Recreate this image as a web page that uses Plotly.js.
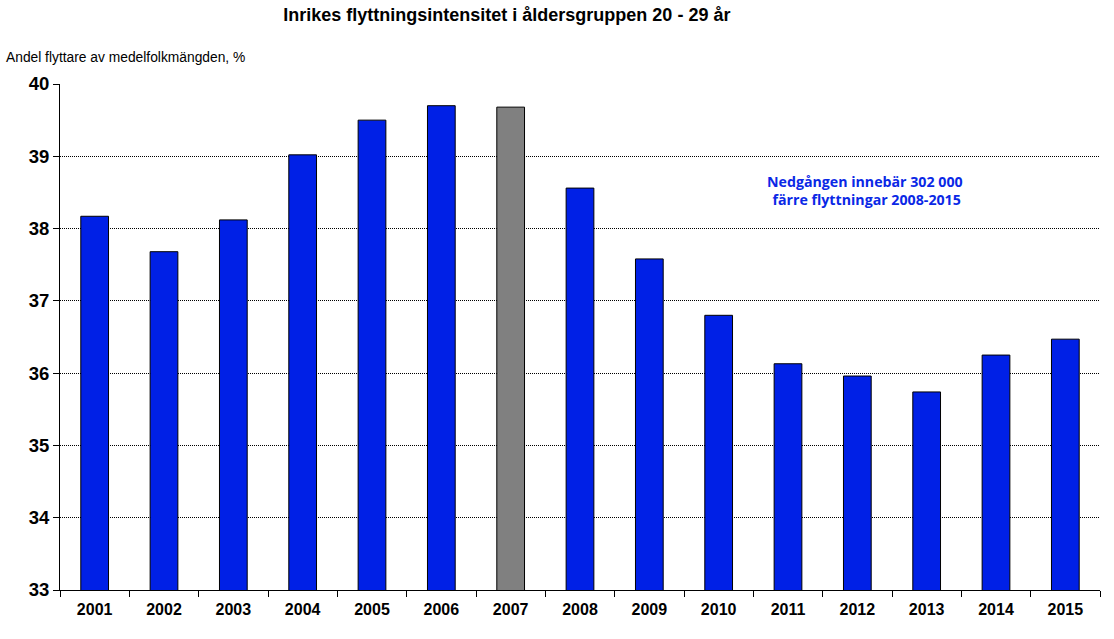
<!DOCTYPE html>
<html>
<head>
<meta charset="utf-8">
<script src="https://cdn.plot.ly/plotly-3.0.1.min.js"></script>
<style>html,body{margin:0;padding:0;background:#fff;}#chart{width:1114px;height:639px;}</style>
</head>
<body>
<div id="chart"></div>
<script>
const years = ["2001","2002","2003","2004","2005","2006","2007","2008","2009","2010","2011","2012","2013","2014","2015"];
const values = [38.17, 37.68, 38.12, 39.02, 39.50, 39.70, 39.68, 38.56, 37.58, 36.80, 36.13, 35.96, 35.74, 36.25, 36.47];
const barColors = years.map(y => y === "2007" ? "#808080" : "#0020e6");

const trace = {
  type: "bar",
  x: years,
  y: values,
  width: 0.4,
  marker: {color: barColors, line: {color: "#000", width: 1}},
  hoverinfo: "x+y"
};

const layout = {
  width: 1114, height: 639,
  margin: {l: 60, r: 14, t: 84, b: 49},
  paper_bgcolor: "#fff", plot_bgcolor: "#fff",
  showlegend: false,
  font: {family: "Liberation Sans, Arial, sans-serif", color: "#000"},
  title: {text: "<b>Inrikes flyttningsintensitet i åldersgruppen 20 - 29 år</b>", font: {size: 18, family: "Liberation Sans, Arial, sans-serif"}, x: 0.455, xanchor: "center", y: 0.977, yanchor: "middle"},
  xaxis: {
    type: "category",
    showline: true, linecolor: "#000", linewidth: 1,
    ticks: "outside", tickson: "boundaries", ticklen: 6, tickcolor: "#000",
    ticklabelstandoff: 5,
    tickfont: {size: 16, family: "Liberation Sans, Arial, sans-serif", weight: "bold"},
    showgrid: false
  },
  yaxis: {
    range: [33, 40], dtick: 1, tick0: 33,
    showline: true, linecolor: "#000", linewidth: 1,
    ticks: "outside", ticklen: 6, tickcolor: "#000",
    tickfont: {size: 18.5, family: "Liberation Sans, Arial, sans-serif", weight: "bold"},
    showgrid: true, gridcolor: "#000", gridwidth: 1, griddash: "1px,1px",
    zeroline: false
  },
  annotations: [
    {text: "Andel flyttare av medelfolkmängden, %", xref: "paper", yref: "paper", x: -0.0538, y: 1.053, xanchor: "left", yanchor: "middle", showarrow: false, font: {size: 13.8}},
    {text: "<b>Nedgången innebär 302 000<br> färre flyttningar 2008-2015</b>", xref: "paper", yref: "paper", x: 0.774, y: 0.79, xanchor: "center", yanchor: "middle", showarrow: false, align: "center", font: {size: 14.2, color: "#0a28e6", family: "Open Sans, sans-serif"}}
  ]
};

Plotly.newPlot("chart", [trace], layout, {displayModeBar: false, staticPlot: true});
</script>
</body>
</html>
